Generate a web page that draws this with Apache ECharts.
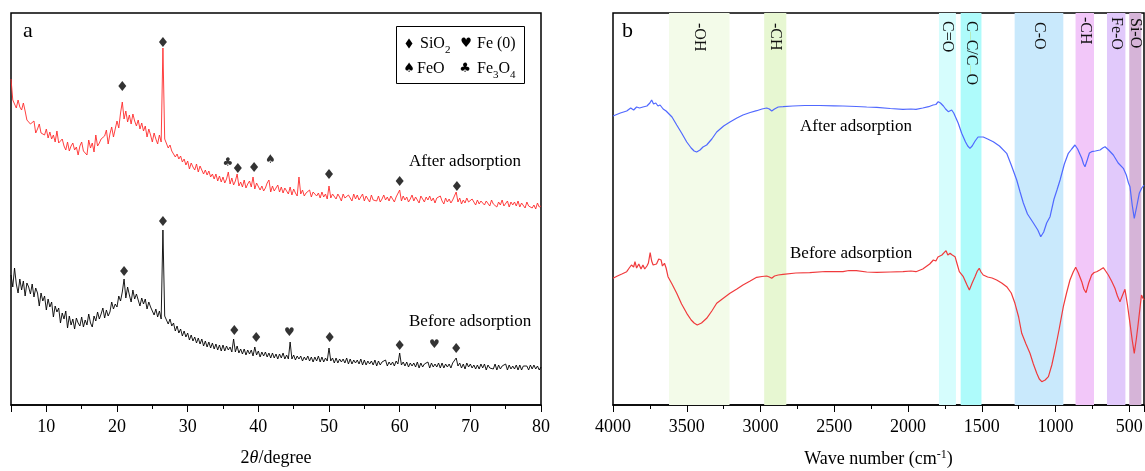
<!DOCTYPE html>
<html><head><meta charset="utf-8">
<script src="https://cdn.jsdelivr.net/npm/echarts@6/dist/echarts.min.js"></script>
<style>html,body{margin:0;padding:0;background:#fff}#c{width:1145px;height:471px}</style>
</head><body><div id="c"></div>
<script>
// ---------- XRD (panel a) ----------
const xrdStart = 5, xrdStep = 0.25;   // 2θ sampling grid
const xrdAfter = [
326,305,306,297, 305,298,295,302, 294,285,287,281, 282,284,272,276, 281,272,274,270,
276,267,273,266, 270,263,274,262, 264,266,259,255, 263,254,259,262, 255,258,250,259,
263,254,256,250, 265,257,262,253, 270,259,262,266, 264,269,275,261, 271,278,268,276,
284,277,292,303, 286,294,283,290, 281,291,284,279, 285,276,282,274, 279,268,276,270,
263,272,266,261, 270,263,357,266, 264,257,260,254, 255,248,251,246, 249,243,246,240,
244,236,242,238, 235,241,233,239, 237,231,235,230, 234,228,231,226, 231,224,229,223,
228,222,226,233, 221,227,220,224, 231,219,223,218, 225,217,221,224, 218,228,216,222,
221,215,219,214, 217,222,225,213, 219,214,216,220, 213,218,212,217, 215,211,218,210,
216,212,209,228, 211,215,209,212, 210,215,208,213, 214,209,212,207, 213,208,211,206,
219,207,211,212, 206,211,208,204, 211,207,205,210, 208,204,211,206, 210,205,207,211,
204,209,206,203, 210,205,207,204, 209,203,206,210, 205,208,204,209, 206,203,208,206,
215,204,209,205, 208,203,206,210, 204,208,205,202, 209,206,203,208, 205,209,204,207,
202,207,205,209, 204,201,207,203, 206,202,205,209, 213,203,207,201, 205,202,207,203,
201,206,203,200, 205,201,204,206, 200,204,202,199, 205,201,203,198, 203,200,205,199,
201,204,198,203, 200,203,199,204, 198,202,200,197, 203,199,201,197, 200,196,202,198,
199];
const xrdBefore = [
130,118,137,121, 112,126,115,124, 109,122,118,111, 121,108,117,112, 99,112,104,109,
95,106,98,103, 88,99,93,97, 82,92,86,94, 77,89,80,86, 76,87,82,79,
88,78,85,80, 91,82,78,89, 84,93,86,91, 97,87,95,89, 93,103,96,101,
98,109,104,113, 126,107,118,110, 103,115,106,111, 110,99,107,101, 106,96,103,98,
99,90,96,88, 94,86,175,89, 90,81,86,79, 82,74,79,72, 76,69,74,68,
72,65,70,64, 68,62,67,61, 66,59,64,58, 63,57,62,56, 61,55,60,54,
60,54,59,55, 58,53,66,53, 59,52,56,51, 56,50,55,51, 55,49,58,50,
54,48,53,49, 53,48,52,47, 52,47,51,46, 51,47,52,46, 50,46,63,46,
50,45,49,46, 49,44,48,45, 49,44,48,43, 48,44,49,43, 48,43,47,44,
57,44,47,42, 47,42,46,43, 46,42,47,41, 46,41,45,42, 45,41,46,40,
45,40,44,41, 44,40,45,39, 44,40,43,41, 45,39,43,40, 43,39,44,41,
52,40,43,39, 43,38,42,39, 42,38,43,37, 42,38,41,39, 43,37,42,38,
41,38,42,37, 42,37,41,38, 41,37,42,41, 47,39,42,37, 41,36,42,38,
41,37,40,36, 40,36,41,37, 41,35,40,37, 39,36,41,35, 40,36,39,37,
41,35,40,36, 39,36,40,35, 40,35,39,37, 39,35,40,36, 40,36,39,35,
38];
// phase markers [2θ, height]
const siO2Marks = [[20.75,319],[26.5,363],[37.1,237],[39.4,238],[50,231],[60,224],[68.1,219],
                   [21,134],[26.5,184],[36.6,75],[39.7,68],[50.1,68],[60,60],[68,57]];
const fe0Marks = [[44.4,72],[64.9,60]];
const feOMarks = [[41.7,245]];
const fe3O4Marks = [[35.7,242]];

// ---------- FTIR (panel b) ----------
const ftirAfter = [[4000,289],[3950,292],[3907,294],[3880,297],[3860,295],[3840,298],[3820,297],[3797,298],[3770,299],[3750,302],[3738,305],[3725,301],[3710,302],[3695,299],[3681,300],[3660,296],[3640,294],[3627,293],[3600,288],[3568,280],[3535,272],[3500,263],[3470,257],[3450,254],[3433,253],[3410,255],[3390,258],[3365,260],[3330,266],[3297,273],[3250,279],[3207,283],[3160,287],[3119,290],[3070,292.5],[3026,294.3],[2990,296],[2958,297],[2940,296],[2924,294],[2905,296],[2880,298],[2847,298.3],[2780,299],[2700,299.5],[2600,299.5],[2500,299.2],[2441,299],[2350,298.5],[2280,298],[2212,297.7],[2120,296.5],[2034,295.7],[1980,296],[1946,295.7],[1900,297],[1860,298.3],[1830,300],[1811,300.5],[1795,303.3],[1780,302],[1760,299],[1745,296],[1727,293.3],[1715,294],[1704,295],[1690,292],[1681,290],[1660,282],[1636,271.7],[1610,263],[1595,259],[1580,256.7],[1565,259],[1545,264],[1525,268],[1512,269],[1490,268],[1460,266],[1422,263.3],[1380,259],[1331,251.7],[1300,240],[1263,225],[1240,213],[1218,202],[1190,191],[1150,182],[1120,175],[1100,168.3],[1080,173],[1060,182],[1037,188.3],[1010,206],[990,215],[969,225],[940,241],[913,251.7],[890,256],[868,260],[850,256],[835,251],[822,246.7],[810,241],[800,238.3],[785,245],[770,252],[755,253.3],[730,254],[698,255],[680,257],[664,258.3],[640,255],[608,250],[575,242],[540,236.7],[520,230],[505,222],[495,218.3],[480,200],[466,186.7],[450,198],[432,211.7],[415,217],[400,220]];
const ftirBefore = [[4000,126.7],[3970,129],[3940,131],[3907,133.3],[3890,137],[3875,140],[3860,138],[3851,143.3],[3840,137],[3825,141],[3810,136],[3797,140],[3785,136],[3770,139],[3760,142],[3748,152.3],[3738,144],[3728,140],[3719,138.3],[3705,141],[3690,146],[3674,145],[3665,139],[3651,141.7],[3640,137],[3627,128.3],[3600,121],[3568,111.7],[3535,101],[3500,91.7],[3470,85],[3450,82],[3429,80],[3400,82],[3365,86.7],[3330,94],[3297,101.7],[3250,107],[3207,111.7],[3160,116],[3119,120],[3070,124],[3026,127.7],[2990,128.5],[2958,129],[2940,128],[2924,126.7],[2905,129],[2880,130],[2847,130.7],[2760,132],[2666,132.3],[2560,133.5],[2441,133.3],[2400,134.5],[2350,134.3],[2280,133],[2212,132.7],[2120,133],[2034,133.3],[1980,134],[1946,133.3],[1900,136],[1853,141],[1828,145],[1811,144],[1797,148],[1770,150],[1742,154.3],[1730,150],[1715,151.7],[1700,150],[1681,148.3],[1665,140],[1652,133.3],[1625,128.3],[1600,120],[1584,115],[1565,122],[1546,128.3],[1530,134],[1517,136.7],[1505,133],[1490,130],[1460,128],[1430,127],[1399,125],[1365,122],[1331,118.3],[1300,112],[1275,101.7],[1250,88],[1229,71.7],[1200,61],[1173,51.7],[1150,41],[1127,31.7],[1110,26],[1093,23.3],[1070,25],[1048,28.3],[1025,40],[1003,55],[975,76],[947,98.3],[925,112],[902,125],[880,133],[863,137.7],[845,132],[822,123.3],[808,116],[793,112.3],[775,122],[755,130],[738,132.5],[721,133.3],[700,135],[676,137.3],[660,134],[642,130],[620,124],[597,116.7],[580,109],[563,103.3],[545,110],[529,115.7],[512,100],[495,81.7],[480,65],[466,51.7],[452,66],[439,81.7],[425,100],[417,110],[408,107],[400,105]];
const bandLabels = ['-OH','-CH','C=O','C–C/C–O','C-O','-CH','Fe-O','Si-O'];
const bandFrom = [3620, 2975, 1790, 1643, 1277, 864, 651, 500];
const bandTo   = [3210, 2825, 1675, 1502, 947, 739, 526, 418];

// ---------- styles / layout ----------
const bandColors = ['#f3fbe9','#e7f7d2','#d6fdfd','#aefbfb','#c9e9fc','#f2c7f9','#e1c9fb','#d6b4d8'];
const bandLabelTop = [23,23,21,21,22,17,17,18];
const SERIF = 'Liberation Serif';
const SYM = 'DejaVu Sans';

function xAxisBase(extra) {
  return Object.assign({
    type: 'value', splitLine: {show: false},
    axisLine: {show: true, onZero: false, lineStyle: {color: '#000', width: 1.5}},
    axisTick: {show: true, length: 7, lineStyle: {color: '#000', width: 1}},
    minorTick: {show: true, splitNumber: 2, length: 4, lineStyle: {color: '#000', width: 1}},
    axisLabel: {color: '#000', fontFamily: SERIF, fontSize: 18, margin: 13, showMinLabel: false,
      formatter: v => String(v)},
    nameLocation: 'middle', nameGap: 44,
    nameTextStyle: {color: '#000', fontFamily: SERIF, fontSize: 18}
  }, extra);
}
const yAxisBase = g => ({type: 'value', gridIndex: g, min: 0, max: 392,
  axisLine: {show: false}, axisTick: {show: false}, axisLabel: {show: false}, splitLine: {show: false}});

function textLabelScatter(data, glyph, size) {
  return {type: 'scatter', xAxisIndex: 0, yAxisIndex: 0, data: data, symbolSize: 1,
    itemStyle: {color: 'rgba(0,0,0,0)'}, z: 5, silent: true,
    label: {show: true, position: 'inside', formatter: glyph, color: '#000', fontFamily: SYM, fontSize: size}};
}

const gridBase = {show: true, borderColor: '#000', borderWidth: 1.5, backgroundColor: 'transparent',
  containLabel: false, outerBoundsMode: 'none'};
const option = {
  animation: false,
  backgroundColor: '#fff',
  grid: [
    Object.assign({left: 11, top: 13, width: 530, height: 392}, gridBase),
    Object.assign({left: 613, top: 13, width: 531, height: 392}, gridBase)
  ],
  xAxis: [
    xAxisBase({gridIndex: 0, min: 5, max: 80, splitNumber: 8, name: '2{i|θ}/degree',
      nameTextStyle: {color: '#000', fontFamily: SERIF, fontSize: 18,
        rich: {i: {fontStyle: 'italic', fontFamily: SERIF, fontSize: 18, color: '#000'}}}}),
    xAxisBase({gridIndex: 1, min: 400, max: 4000, splitNumber: 7, inverse: true,
      name: 'Wave number (cm{s|-1})',
      nameTextStyle: {color: '#000', fontFamily: SERIF, fontSize: 18,
        rich: {s: {fontFamily: SERIF, fontSize: 12, color: '#000', verticalAlign: 'top', padding: [0, 0, 8, 0]}}}})
  ],
  yAxis: [yAxisBase(0), yAxisBase(1)],
  series: [
    {type: 'line', xAxisIndex: 0, yAxisIndex: 0, showSymbol: false, silent: true,
      lineStyle: {color: '#ff2a2a', width: 0.9}, itemStyle: {color: '#ff2a2a'},
      data: xrdAfter.map((v, i) => [xrdStart + i * xrdStep, v])},
    {type: 'line', xAxisIndex: 0, yAxisIndex: 0, showSymbol: false, silent: true,
      lineStyle: {color: '#000', width: 0.9}, itemStyle: {color: '#000'},
      data: xrdBefore.map((v, i) => [xrdStart + i * xrdStep, v])},
    {type: 'scatter', xAxisIndex: 0, yAxisIndex: 0, data: siO2Marks, symbol: 'diamond',
      symbolSize: [8, 10], itemStyle: {color: '#000'}, z: 5, silent: true},
    textLabelScatter(fe0Marks, '♥', 12),
    textLabelScatter(feOMarks, '♠', 12),
    textLabelScatter(fe3O4Marks, '♣', 12),
    {type: 'line', xAxisIndex: 1, yAxisIndex: 1, showSymbol: false, silent: true,
      lineStyle: {color: '#5068ff', width: 1.2}, itemStyle: {color: '#5068ff'}, data: ftirAfter,
      markArea: {silent: true, label: {show: false},
        data: bandFrom.map((f, i) => [{xAxis: f, itemStyle: {color: bandColors[i]}}, {xAxis: bandTo[i]}])}},
    {type: 'line', xAxisIndex: 1, yAxisIndex: 1, showSymbol: false, silent: true,
      lineStyle: {color: '#f03a3c', width: 1.2}, itemStyle: {color: '#f03a3c'}, data: ftirBefore}
  ]
};

const chart = echarts.init(document.getElementById('c'));
chart.setOption(option);

const T = (x, y, text, size, extra) => Object.assign({type: 'text', x: x, y: y, z: 100, silent: true,
  style: {text: text, fill: '#000', fontFamily: SERIF, fontSize: size,
          align: 'left', verticalAlign: 'middle'}}, extra || {});
const G = (x, y, glyph) => ({type: 'text', x: x, y: y, z: 101, silent: true,
  style: {text: glyph, fill: '#000', fontFamily: SYM, fontSize: 13, align: 'center', verticalAlign: 'middle'}});
const subRich = {s: {fontFamily: SERIF, fontSize: 11, fill: '#000', verticalAlign: 'bottom', padding: [0, 0, -4, 0]}};
const graphics = [
  T(23, 31, 'a', 22), T(622, 31, 'b', 22),
  // legend box
  {type: 'rect', z: 100, silent: true, shape: {x: 396.5, y: 26.5, width: 128, height: 57},
    style: {fill: '#fff', stroke: '#000', lineWidth: 1}},
  {type: 'polygon', z: 101, silent: true, shape: {points: [[409, 38.5], [412.5, 43.5], [409, 48.5], [405.5, 43.5]]}, style: {fill: '#000'}},
  {type: 'text', x: 420, y: 43.5, z: 101, silent: true, style: {text: 'SiO{s|2}', fill: '#000', fontFamily: SERIF, fontSize: 16,
    align: 'left', verticalAlign: 'middle', rich: subRich}},
  G(466, 43.5, '♥'),
  T(477, 43.5, 'Fe (0)', 16),
  G(409, 69, '♠'),
  T(417, 69, 'FeO', 16),
  G(465, 69, '♣'),
  {type: 'text', x: 477, y: 69, z: 101, silent: true, style: {text: 'Fe{s|3}O{s|4}', fill: '#000', fontFamily: SERIF, fontSize: 16,
    align: 'left', verticalAlign: 'middle', rich: subRich}},
  // curve annotations
  T(409, 162, 'After adsorption', 17), T(409, 322, 'Before adsorption', 17),
  T(800, 127, 'After adsorption', 17), T(790, 254, 'Before adsorption', 17)
];
bandLabels.forEach((t, i) => {
  const xc = chart.convertToPixel({xAxisIndex: 1}, (bandFrom[i] + bandTo[i]) / 2);
  const rich = t.indexOf('–') >= 0;
  graphics.push({type: 'text', x: xc, y: bandLabelTop[i], rotation: -Math.PI / 2, z: 100, silent: true,
    style: {text: rich ? '{n|C}{d|–}{n|C/C}{d|–}{n|O}' : t, fill: '#111', fontFamily: SERIF, fontSize: 16,
      align: 'left', verticalAlign: 'middle',
      rich: rich ? {n: {fontFamily: SERIF, fontSize: 16, fill: '#111'}, d: {fontFamily: SERIF, fontSize: 16, fill: '#b8e6b0'}} : undefined}});
});
chart.setOption({graphic: graphics});
</script>
</body></html>
